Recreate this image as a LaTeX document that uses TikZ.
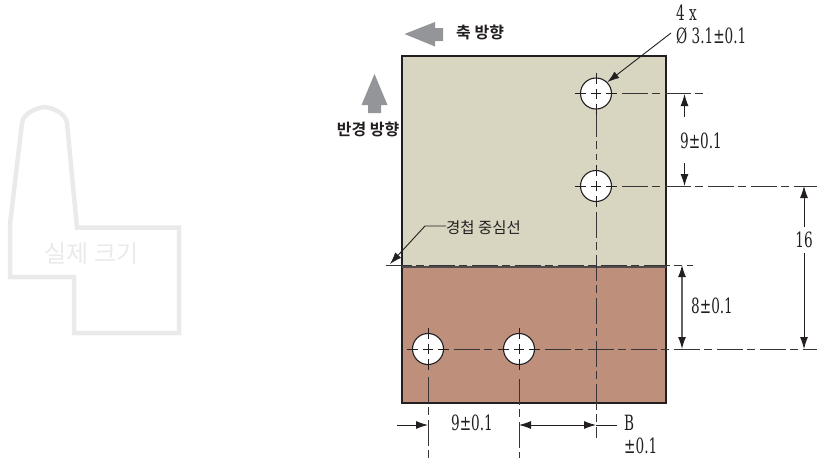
\documentclass[tikz,border=0pt]{standalone}
\usepackage{fontspec}
\setmainfont[FakeStretch=0.72]{DejaVu Serif Condensed}
\newfontfamily\kr{Noto Sans CJK KR}
\newfontfamily\krb{Noto Sans CJK KR Bold}
\usetikzlibrary{arrows.meta}
\definecolor{tan}{HTML}{D8D5C1}
\definecolor{clay}{HTML}{BE8F7A}
\definecolor{ink}{HTML}{231F20}
\definecolor{arrowgray}{HTML}{939598}
\definecolor{ghost}{HTML}{EAEAEA}
\tikzset{
 x=1pt,y=-1pt,
 plate/.style={draw=ink,line width=1.1pt},
 hole/.style={circle,draw=ink,fill=white,line width=1.1pt,minimum size=31pt,inner sep=0pt},
 center/.style={draw=ink!90,line width=.95pt,dash pattern=on 26pt off 4pt on 8pt off 5pt},
 stub/.style={draw=ink,line width=.9pt},
 dim/.style={draw=ink,line width=.9pt,-{Latex[length=12pt,width=8pt,color=ink]}},
 dimtwo/.style={draw=ink,line width=.9pt,{Latex[length=12pt,width=8pt,color=ink]}-{Latex[length=12pt,width=8pt,color=ink]}},
 txt/.style={text=ink,font=\fontsize{21}{23}\selectfont,inner sep=0pt},
 krt/.style={text=ink,font=\kr\fontsize{15.5}{17}\selectfont,inner sep=0pt},
 krh/.style={text=ink,font=\krb\fontsize{16}{18}\selectfont,inner sep=0pt},
 cross/.style={draw=ink,line width=.9pt},
}
\begin{document}
\begin{tikzpicture}
\useasboundingbox (0,0) rectangle (817,464);
% ghost outline
\draw[ghost,line width=4.5pt,line join=miter]
 (10,224) -- (22,123) .. controls (23,114) and (35,108) .. (44.5,107) .. controls (54,108) and (66,114) .. (67,123)
 -- (77,227.5) -- (179,227.5) -- (179,333) -- (74,333) -- (74,277) -- (10,277) -- cycle;
\node[text=ghost,font=\kr\fontsize{24}{26}\selectfont,inner sep=0pt] (size) at (91.5,254) {실제 크기};
% plates
\fill[tan] (402,56) rectangle (666,266);
\fill[clay] (402,266) rectangle (666,403);
\draw[plate] (402,56) rectangle (666,403);
\draw[draw=ink!80,line width=2.2pt] (402,267) -- (666,267);
% holes
\node[hole] (a) at (596,93.5) {};
\node[hole] (b) at (596,186) {};
\node[hole] (c) at (428,349) {};
\node[hole] (d) at (519,349) {};
% named ends of centre lines
\coordinate (v1a) at (596,111); \coordinate (v1b) at (596,160);
\coordinate (v2a) at (596,212); \coordinate (v2b) at (596,438);
\coordinate (l1a) at (428,377); \coordinate (l1b) at (428,463);
\coordinate (l2a) at (519,379); \coordinate (l2b) at (519,458);
\coordinate (h1a) at (622,93.5); \coordinate (h1b) at (708,93.5);
\coordinate (h2a) at (622,186); \coordinate (h2b) at (817,186);
\coordinate (h3a) at (386,265); \coordinate (h3b) at (693,265);
\coordinate (h4a) at (454,349); \coordinate (h4b) at (493,349);
\coordinate (h5a) at (545,349); \coordinate (h5b) at (817,349);
% centre lines
\draw[center] (v1a) -- (v1b);
\draw[center] (v2a) -- (v2b);
\draw[center] (l1a) -- (l1b);
\draw[center] (l2a) -- (l2b);
\draw[center] (h1a) -- (h1b);
\draw[center] (h2a) -- (h2b);
\draw[center] (h3a) -- (h3b);
\draw[center] (h4a) -- (h4b);
\draw[center] (h5a) -- (h5b);
\foreach \n in {a,b,c,d}{
 \draw[cross] ([xshift=-5pt]\n.center) -- ([xshift=5pt]\n.center);
 \draw[cross] ([yshift=-5pt]\n.center) -- ([yshift=5pt]\n.center);
 \draw[stub] ([xshift=-21pt]\n.center) -- ([xshift=-10pt]\n.center);
 \draw[stub] ([xshift=10pt]\n.center) -- ([xshift=21pt]\n.center);
 \draw[stub] ([yshift=21pt]\n.center) -- ([yshift=10pt]\n.center);
 \draw[stub] ([yshift=-21pt]\n.center) -- ([yshift=-10pt]\n.center);
}
% block arrows
\fill[arrowgray] (404.5,34) -- (435,22) -- (435,28) -- (443,28) -- (443,41) -- (435,41) -- (435,46.5) -- cycle;
\fill[arrowgray] (374.5,74) -- (387.5,105) -- (381,105) -- (381,113) -- (368,113) -- (368,105) -- (361.5,105) -- cycle;
\node[krh,anchor=west] (axial) at (456,32.5) {축 방향};
\node[krh,anchor=east] (radial) at (399.5,129.5) {반경 방향};
% hole call-out
\node[txt,anchor=west] (four) at (676,13) {4 x};
\node[txt,anchor=west] (phi) at (676,36) {Ø 3.1±0.1};
\coordinate (k1) at (671,33);
\draw[dim] (k1) -- (a.45);
% centre line label
\node[krt,anchor=west] (lap) at (446,228) {경첩 중심선};
\coordinate (k2) at (425,226);
\coordinate (k3) at (390,264);
\draw[dim] (lap.west |- k2) -- (k2) -- (k3);
% dim 9 right
\node[txt] (n9a) at (701,141) {9±0.1};
\coordinate (d1) at (684.5,94); \coordinate (d1s) at (684.5,117);
\coordinate (d2) at (684.5,186); \coordinate (d2s) at (684.5,163);
\draw[dim] (d1s) -- (d1);
\draw[dim] (d2s) -- (d2);
% dim 16
\node[txt] (n16) at (804,240) {16};
\coordinate (e1) at (804,186); \coordinate (e2) at (804,349);
\draw[dim] (n16.north) ++(0,-5) -- (e1);
\draw[dim] (n16.south) ++(0,5) -- (e2);
% dim 8
\node[txt,anchor=west] (n8) at (691,306) {8±0.1};
\coordinate (f1) at (682,265); \coordinate (f2) at (682,349);
\draw[dimtwo,line width=1.2pt,draw=ink!70] (f1) -- (f2);
% bottom dims
\coordinate (g0) at (397,425); \coordinate (g1) at (428,425);
\draw[dim] (g0) -- (g1);
\node[txt] (n9b) at (472,423) {9±0.1};
\coordinate (g2) at (519,425); \coordinate (g3) at (596,425);
\draw[dimtwo] (g2) -- (g3);
\coordinate (g4) at (617,425);
\draw[draw=ink,line width=.9pt] (g3) -- (g4);
\node[txt,anchor=west] (nB) at (624,423) {B};
\node[txt,anchor=west] (npm) at (624,446) {±0.1};
\end{tikzpicture}
\end{document}
